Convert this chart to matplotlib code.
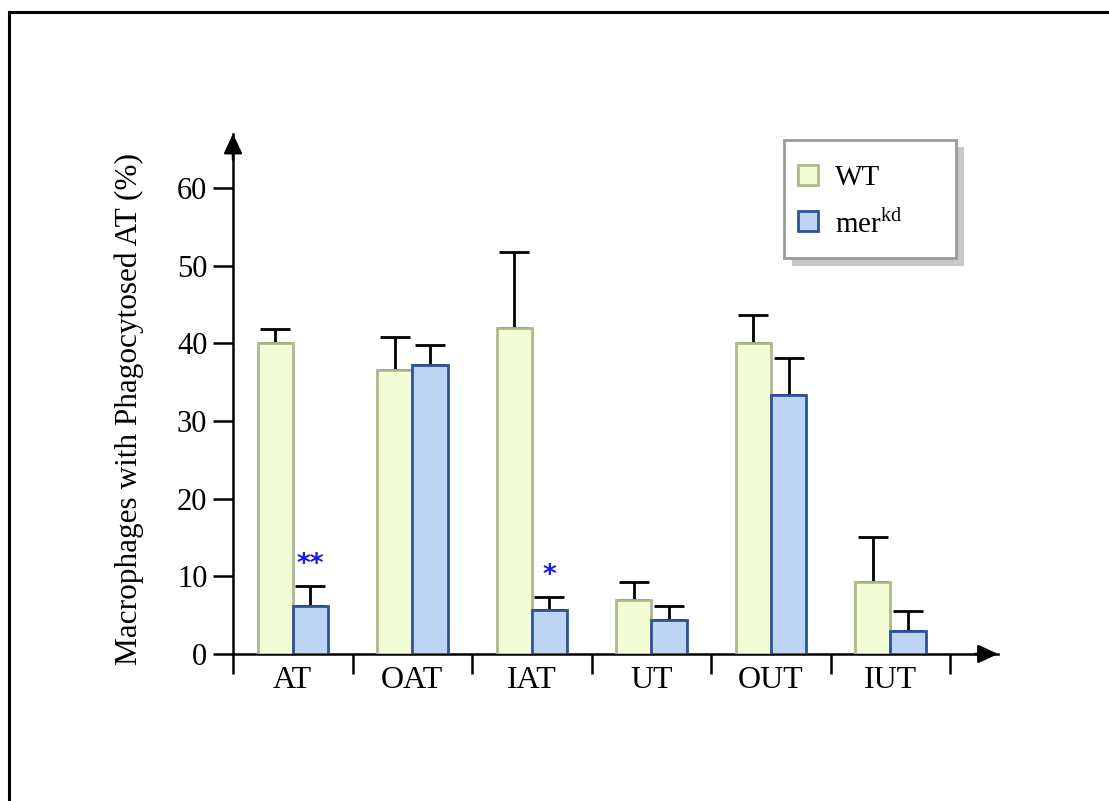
import matplotlib
matplotlib.use("Agg")
import matplotlib.pyplot as plt
from matplotlib.patches import Rectangle
import numpy as np

categories = ["AT", "OAT", "IAT", "UT", "OUT", "IUT"]
wt_values = [40.0, 36.5, 42.0, 7.0, 40.0, 9.3]
wt_errors = [1.8, 4.3, 9.8, 2.3, 3.7, 5.7]
mer_values = [6.2, 37.2, 5.7, 4.4, 33.4, 3.0]
mer_errors = [2.6, 2.6, 1.7, 1.8, 4.7, 2.6]
significance = {0: "**", 2: "*"}
y_ticks = [0, 10, 20, 30, 40, 50, 60]
series_names = ["WT", "mer$^{\\mathrm{kd}}$"]

plt.rcParams['font.family'] = ['Liberation Serif', 'DejaVu Serif']
plt.rcParams['mathtext.fontset'] = 'custom'
plt.rcParams['mathtext.rm'] = 'Liberation Serif'

W, H = 1109, 801
fig = plt.figure(figsize=(W / 100, H / 100), dpi=100)


def fx(px):
    return px / W


def fy(py):
    return 1 - py / H


# outer frame (extends beyond right and bottom edges)
fig.patches.append(Rectangle((fx(8.5), -0.1), 1.2, fy(12) + 0.1,
                             transform=fig.transFigure, fill=False,
                             edgecolor='black', linewidth=2.2))

ax = fig.add_axes([fx(233), 147 / H, 765 / W, 520.4 / H])
ax.set_xlim(-0.5, 5.9)
ax.set_ylim(0, 67)

x = np.arange(len(categories))
bw = 0.295
wt_face, wt_edge = '#F2FDD5', '#AEB98B'
mer_face, mer_edge = '#BDD5F2', '#2D529A'
face = [wt_face, mer_face]
edge = [wt_edge, mer_edge]

ax.bar(x - bw / 2, wt_values, bw, color=wt_face, edgecolor=wt_edge,
       linewidth=2, zorder=3)
ax.bar(x + bw / 2, mer_values, bw, color=mer_face, edgecolor=mer_edge,
       linewidth=2, zorder=3)
ax.errorbar(x - bw / 2, wt_values, yerr=[np.zeros(len(x)), wt_errors],
            fmt='none', ecolor='black', elinewidth=2, capsize=10.5,
            capthick=2, zorder=2)
ax.errorbar(x + bw / 2, mer_values, yerr=[np.zeros(len(x)), mer_errors],
            fmt='none', ecolor='black', elinewidth=2, capsize=10.5,
            capthick=2, zorder=2)

for i, s in significance.items():
    top = mer_values[i] + mer_errors[i]
    ax.text(i + bw / 2, top + 1.0, s, color='#1A1AFF', ha='center',
            va='bottom', fontsize=19, family='DejaVu Sans', fontweight='bold')

# spines and arrows
for side in ['top', 'right']:
    ax.spines[side].set_visible(False)
for side in ['left', 'bottom']:
    ax.spines[side].set_linewidth(1.8)
arrow = dict(arrowstyle='-|>,head_length=0.75,head_width=0.35', color='black',
             lw=1.8, mutation_scale=16, shrinkA=0, shrinkB=0)
ax.annotate('', xy=(1.0, 0), xytext=(0.97, 0), xycoords='axes fraction',
            arrowprops=arrow, annotation_clip=False)
ax.annotate('', xy=(0, 1.0), xytext=(0, 0.95), xycoords='axes fraction',
            arrowprops=arrow, annotation_clip=False)

ax.set_yticks(y_ticks)
ax.set_yticklabels([str(t) for t in y_ticks], fontsize=22)
ax.tick_params(axis='y', direction='out', length=14.5, width=1.8, pad=4)
ax.set_xticks(np.arange(-0.5, 6.0, 1.0))
ax.set_xticklabels([])
ax.set_xticks(x, minor=True)
ax.set_xticklabels(categories, minor=True, fontsize=23)
ax.tick_params(axis='x', which='major', direction='out', length=14.5, width=1.8)
ax.tick_params(axis='x', which='minor', length=0, pad=9)

ax.text((129 - 233) / 765, (801 - 409 - 147) / 520.4,
        'Macrophages with Phagocytosed AT (%)', rotation=90,
        ha='center', va='center', fontsize=22.5, transform=ax.transAxes)

# legend with shadow (drawn manually)
off = 7.5
fig.patches.append(Rectangle((fx(784 + off), fy(258 + off)), (956 - 784) / W,
                             (258 - 140) / H, transform=fig.transFigure,
                             facecolor='#C8C8C8', edgecolor='none', zorder=5))
fig.patches.append(Rectangle((fx(784), fy(258)), (956 - 784) / W,
                             (258 - 140) / H, transform=fig.transFigure,
                             facecolor='white', edgecolor='#9A9A9A',
                             linewidth=2, zorder=6))
row_y = [175, 221.5]
for k, name in enumerate(series_names):
    cy = row_y[k]
    fig.patches.append(Rectangle((fx(797.5), fy(cy + 10)), 20 / W, 20 / H,
                                 transform=fig.transFigure, facecolor=face[k],
                                 edgecolor=edge[k], linewidth=2, zorder=7))
    fig.text(fx(835), fy(cy), name, ha='left', va='center_baseline',
             fontsize=21, zorder=8)

fig.savefig('out.png', dpi=100)
